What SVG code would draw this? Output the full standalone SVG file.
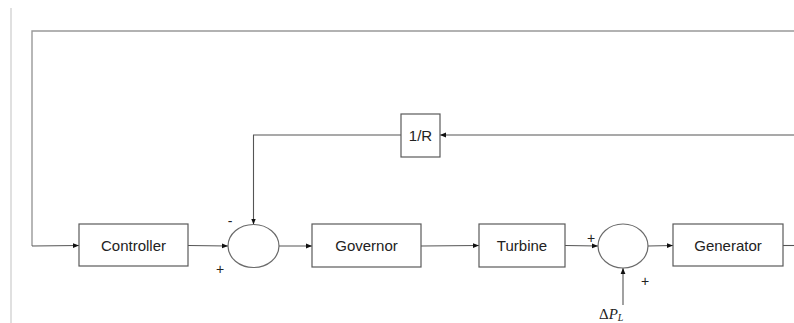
<svg xmlns="http://www.w3.org/2000/svg" width="794" height="323" viewBox="0 0 794 323">
<style>
.box{fill:#fff;stroke:#5a5a5a;stroke-width:1.2}
.sum{fill:#fff;stroke:#6a6a6a;stroke-width:1.2}
.ln{fill:none;stroke:#555;stroke-width:1.1}
.lg{fill:none;stroke:#999;stroke-width:1.4}
.t{font-family:"Liberation Sans",Arial,sans-serif;font-size:15px;fill:#222;text-anchor:middle}
.s{font-family:"Liberation Sans",Arial,sans-serif;font-size:14px;fill:#222;text-anchor:middle}
</style>
<defs>
<marker id="a" viewBox="0 0 10 10" refX="10" refY="5" markerWidth="6" markerHeight="6" markerUnits="userSpaceOnUse" orient="auto">
<path d="M0,1 L10,5 L0,9 Z" fill="#111"/>
</marker>
</defs>
<rect width="794" height="323" fill="#fff"/>
<line x1="11" y1="8" x2="11" y2="323" stroke="#ccc" stroke-width="1.2"/>
<g id="connectors">
<polyline class="lg" points="794,31 32,31 32,246"/>
<line class="ln" x1="32" y1="246" x2="79" y2="245.5" marker-end="url(#a)"/>
<line class="ln" x1="188" y1="245.5" x2="228" y2="246" marker-end="url(#a)"/>
<line class="ln" x1="279" y1="246" x2="312" y2="246" marker-end="url(#a)"/>
<line class="ln" x1="421" y1="246" x2="479" y2="245.5" marker-end="url(#a)"/>
<line class="ln" x1="565" y1="245.5" x2="598" y2="246" marker-end="url(#a)"/>
<line class="ln" x1="648" y1="246" x2="673" y2="245.5" marker-end="url(#a)"/>
<line class="ln" x1="783" y1="245.5" x2="794" y2="245.5"/>
<line class="ln" x1="794" y1="135" x2="440" y2="135" marker-end="url(#a)"/>
<polyline class="ln" points="401,135 253.5,135 253.5,224.5" marker-end="url(#a)"/>
<line class="ln" x1="623" y1="305" x2="623" y2="268" marker-end="url(#a)"/>
</g>
<g id="controller"><rect class="box" x="79" y="224" width="109" height="42"/><text class="t" x="133.5" y="251">Controller</text></g>
<g id="sum1"><ellipse class="sum" cx="253.5" cy="246" rx="25.5" ry="21.5"/><text class="s" x="230" y="226">-</text><text class="s" x="220" y="274">+</text></g>
<g id="governor"><rect class="box" x="312" y="224" width="109" height="43"/><text class="t" x="366.5" y="251">Governor</text></g>
<g id="r"><rect class="box" x="401" y="114" width="39" height="43"/><text class="t" x="420.5" y="141">1/R</text></g>
<g id="turbine"><rect class="box" x="479" y="224" width="86" height="43"/><text class="t" x="522" y="251">Turbine</text></g>
<g id="sum2"><ellipse class="sum" cx="623" cy="246" rx="25" ry="22"/><text class="s" x="591" y="243">+</text><text class="s" x="645" y="286">+</text></g>
<g id="generator"><rect class="box" x="673" y="224" width="110" height="42"/><text class="t" x="728" y="251">Generator</text></g>
<g id="load"><text x="599" y="319" font-family="Liberation Serif,serif" font-size="15" fill="#222">Δ<tspan font-style="italic">P</tspan><tspan font-style="italic" font-size="10" dy="2">L</tspan></text></g>
</svg>
